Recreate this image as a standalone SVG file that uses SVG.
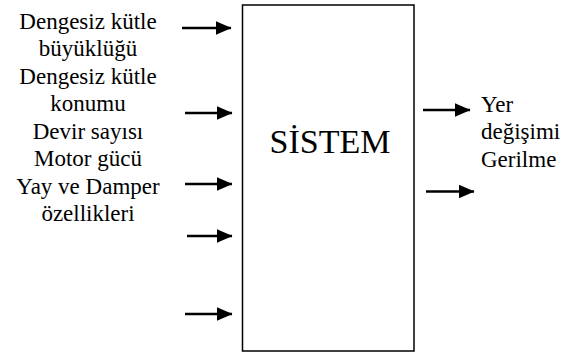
<svg xmlns="http://www.w3.org/2000/svg" width="586" height="355" viewBox="0 0 586 355">
<style>
.t{font-family:"Liberation Serif","Times New Roman",serif;fill:#000;font-size:23px}
.c{text-anchor:middle}
.ln{stroke:#000;stroke-width:2.6;fill:none}
</style>
<defs>
<marker id="ah" markerWidth="16" markerHeight="14" refX="15.5" refY="7" orient="auto" markerUnits="userSpaceOnUse">
<path d="M0,0 L16,7 L0,14 Z" fill="#000"/>
</marker>
</defs>
<rect width="586" height="355" fill="#fff"/>
<g id="inputs" class="t c">
<text x="88" y="28.5">Dengesiz kütle</text>
<text x="88" y="56">büyüklüğü</text>
<text x="88" y="83.5">Dengesiz kütle</text>
<text x="88" y="111">konumu</text>
<text x="88" y="138.5">Devir sayısı</text>
<text x="88" y="166">Motor gücü</text>
<text x="88" y="193.5">Yay ve Damper</text>
<text x="88" y="221">özellikleri</text>
</g>
<g id="system">
<rect x="242.5" y="5" width="171.5" height="346" fill="#fff" stroke="#000" stroke-width="1.5"/>
<text class="t c" x="330" y="153" style="font-size:34px">SİSTEM</text>
</g>
<g id="outputs" class="t">
<text x="481" y="111.5">Yer</text>
<text x="481" y="139">değişimi</text>
<text x="481" y="166.5">Gerilme</text>
</g>
<g id="connectors">
<line class="ln" x1="182" y1="28" x2="231" y2="28" marker-end="url(#ah)"/>
<line class="ln" x1="185" y1="113" x2="232" y2="113" marker-end="url(#ah)"/>
<line class="ln" x1="185" y1="184" x2="232" y2="184" marker-end="url(#ah)"/>
<line class="ln" x1="187" y1="236" x2="232" y2="236" marker-end="url(#ah)"/>
<line class="ln" x1="185" y1="314" x2="232" y2="314" marker-end="url(#ah)"/>
<line class="ln" x1="423" y1="110" x2="470" y2="110" marker-end="url(#ah)"/>
<line class="ln" x1="426" y1="191.5" x2="474" y2="191.5" marker-end="url(#ah)"/>
</g>
</svg>
